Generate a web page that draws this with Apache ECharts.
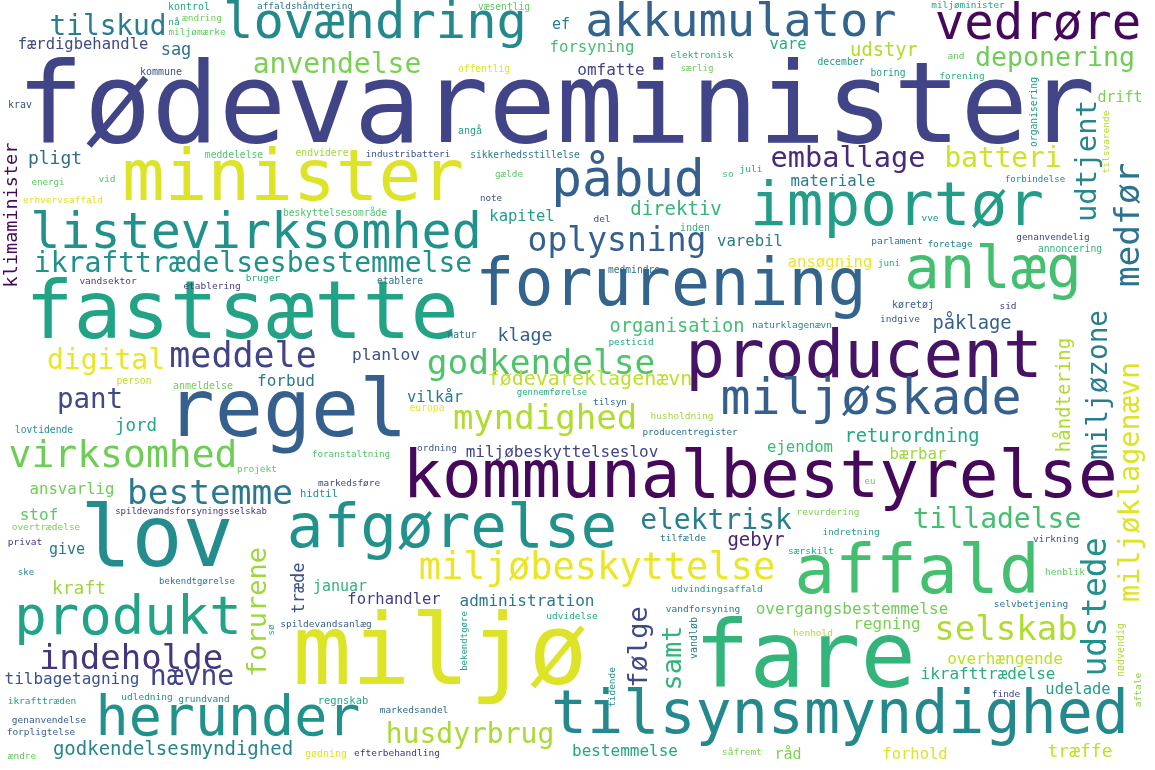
<!DOCTYPE html>
<html>
<head>
<meta charset="utf-8">
<script src="https://cdn.jsdelivr.net/npm/echarts@6/dist/echarts.min.js"></script>
<style>
  html, body { margin: 0; padding: 0; background: #fff; }
  #cloud { width: 1155px; height: 770px; }
</style>
</head>
<body>
<div id="cloud"></div>
<script>
// ord, placering (x, y i billedets koordinater), vægt (skriftstørrelse), farvetone (viridis 0-1), lodret
var words = [
  'fødevareminister','minister','listevirksomhed','ikrafttrædelsesbestemmelse','fastsætte','regel','lov','produkt','indeholde','herunder',
  'godkendelsesmyndighed','tilbagetagning','nævne','forurene','stof','overtrædelse','privat','give','ske','kraft',
  'bekendtgørelse','spildevandsforsyningsselskab','ikrafttræden','udledning','grundvand','genanvendelse','forpligtelse','ændre','afgørelse','miljøbeskyttelse',
  'træde','januar','forhandler','administration','udvidelse','spildevandsanlæg','bekendtgøre','miljø','regnskab','markedsandel',
  'husdyrbrug','gødning','efterbehandling','tilsynsmyndighed','bestemmelse','elektrisk','revurdering','tilfælde','indretning','gebyr',
  'særskilt','affald','udvindingsaffald','overgangsbestemmelse','vandforsyning','følge','samt','vandløb','tidende','regning',
  'henhold','fare','råd','såfremt','tilladelse','virkning','udstede','miljøklagenævn','henblik','selvbetjening',
  'selskab','nødvendig','aftale','overhængende','ikrafttrædelse','udelade','finde','forhold','træffe','klimaminister',
  'vandsektor','etablering','bruger','digital','meddele','person','anmeldelse','forbud','pant','jord',
  'lovtidende','virksomhed','projekt','ansvarlig','bestemme','forurening','etablere','natur','klage','planlov',
  'godkendelse','fødevareklagenævn','gennemførelse','vilkår','europa','myndighed','foranstaltning','ordning','miljøbeskyttelseslov','markedsføre',
  'kommunalbestyrelse','hidtil','oplysning','medmindre','ansøgning','juni','organisation','naturklagenævn','pesticid','producent',
  'miljøskade','tilsyn','husholdning','producentregister','returordning','ejendom','bærbar','eu','anlæg','medfør',
  'køretøj','sid','indgive','påklage','miljøzone','håndtering','akkumulator','forsyning','vare','udstyr',
  'elektronisk','december','særlig','omfatte','påbud','emballage','materiale','juli','so','direktiv',
  'del','inden','varebil','importør','udtjent','vedrøre','miljøminister','deponering','and','boring',
  'forening','drift','organisering','tilsvarende','batteri','forbindelse','vve','parlament','foretage','genanvendelig',
  'annoncering','tilskud','kontrol','nå','ændring','miljømærke','affaldshåndtering','lovændring','væsentlig','ef',
  'færdigbehandle','sag','anvendelse','offentlig','kommune','krav','pligt','meddelelse','energi','vid',
  'erhvervsaffald','beskyttelsesområde','angå','endvidere','industribatteri','sikkerhedsstillelse','gælde','note','kapitel','sø'
];
var xs = [
  556,293,256,253,242,287,157,128,131,228,
  173,72,192,259,39,46,25,67,26,79,
  197,191,42,147,204,49,41,22,452,597,
  300,340,394,527,572,326,465,440,343,414,
  470,326,397,840,625,716,828,683,851,756,
  811,917,717,852,703,640,674,694,613,887,
  813,805,788,742,997,1056,1097,1132,1065,1031,
  1006,1121,1139,1005,988,1078,1006,915,1080,12,
  108,212,263,106,243,134,203,286,90,136,
  44,123,257,72,210,671,400,462,525,386,
  541,590,552,435,427,545,351,437,562,349,
  760,319,617,634,830,889,677,792,631,864,
  871,610,682,690,912,800,918,870,993,1130,
  913,1008,900,972,1100,1065,741,592,788,884,
  702,841,697,611,628,848,833,751,728,676,
  602,695,750,897,1088,1038,968,1055,956,888,
  962,1120,1034,1107,1003,1035,930,897,950,1053,
  1070,108,189,174,202,197,305,375,504,561,
  83,176,337,484,161,20,55,234,48,107,
  63,335,470,322,408,525,509,491,522,272
];
var ys = [
  113,182,235,265,317,415,544,620,660,721,
  750,680,678,612,516,528,543,550,573,589,
  582,512,702,698,700,721,733,757,531,569,
  588,587,600,602,617,625,641,659,701,711,
  736,754,754,717,752,522,513,539,533,541,
  552,575,590,610,610,647,658,638,687,625,
  634,663,755,753,521,540,607,482,573,605,
  631,650,690,660,675,690,695,755,752,215,
  282,287,279,362,358,381,386,382,401,426,
  430,457,470,490,495,288,281,335,336,356,
  365,380,393,398,408,420,455,449,453,484,
  480,494,242,270,263,264,327,326,343,360,
  401,403,417,433,437,448,455,482,273,225,
  305,307,320,324,385,395,24,48,45,51,
  56,62,69,71,183,160,182,170,175,210,
  220,228,242,209,161,26,6,59,57,73,
  77,98,112,142,160,180,219,242,245,238,
  249,28,7,23,19,33,7,25,7,25,
  45,51,66,69,72,105,159,155,183,180,
  201,213,131,153,155,155,175,199,217,630
];
var weights = [
  112,71,50,28,80,80,85,54,34,55,
  19,16,28,27,16,9.5,9.5,15,9,18,
  9,9,9.5,9.5,9.5,9.5,9.5,9.5,61,37,
  17,15,15.5,16,9.5,9.5,9,98,10.5,9.5,
  28,10,9.5,60,16,28,9.5,9.5,9.5,19,
  9.5,68,9.5,16,9.5,27,27,10,9.5,16,
  9.5,92,15,9.5,28,9.5,33,28.5,9.5,9.5,
  34,10,9.5,16,16,15.5,9.5,15.5,18,18.5,
  9.5,9.5,9.5,28,35,9.7,10,16,27.5,17.5,
  9.7,38,9.5,15.7,34.5,65,9.6,9.6,18.3,16.2,
  34.5,20,9,15.5,9.7,34,9.3,9.5,16,9.4,
  66,10.5,33,9.6,15.7,9.2,18.7,9.5,9.4,66,
  50,9.4,9.5,9.3,18.7,15.7,15.8,9,59,34.4,
  10,9.5,9.5,18.8,27.7,19,47,15.7,15.4,18.8,
  9.5,9.8,9.2,16,51,28.6,15.7,9.5,9.5,19,
  9.5,10,15.7,61,29,49,9.4,26.6,9.5,9.7,
  9.4,15,9.7,9.5,27.8,9.1,9.5,9.5,9.4,9.4,
  9.7,27.8,10,9.5,9.5,9.5,9.4,50.5,9.6,15,
  15.5,17,28,9.6,10,10,18,9.7,9.2,9.5,
  9.5,9.6,10,9.8,9.4,9.6,9.3,9.2,15.5,9
];
var tones = [
  0.2,0.95,0.5,0.5,0.58,0.3,0.48,0.58,0.15,0.5,
  0.45,0.25,0.2,0.85,0.75,0.8,0.15,0.4,0.45,0.85,
  0.4,0.15,0.55,0.5,0.45,0.3,0.3,0.75,0.5,0.97,
  0.25,0.65,0.18,0.4,0.6,0.3,0.55,0.95,0.6,0.35,
  0.87,0.95,0.15,0.47,0.6,0.42,0.8,0.4,0.55,0.1,
  0.6,0.7,0.55,0.78,0.4,0.22,0.65,0.4,0.5,0.8,
  0.88,0.65,0.8,0.8,0.7,0.25,0.5,0.95,0.75,0.38,
  0.88,0.88,0.82,0.9,0.62,0.55,0.22,0.95,0.9,0.02,
  0.18,0.18,0.6,0.97,0.2,0.9,0.78,0.4,0.22,0.6,
  0.5,0.78,0.75,0.78,0.4,0.32,0.35,0.35,0.3,0.25,
  0.72,0.9,0.62,0.4,0.97,0.88,0.72,0.28,0.2,0.22,
  0.02,0.5,0.3,0.35,0.98,0.6,0.7,0.45,0.6,0.05,
  0.3,0.35,0.85,0.38,0.6,0.68,0.85,0.75,0.7,0.38,
  0.3,0.2,0.3,0.3,0.42,0.88,0.32,0.7,0.62,0.88,
  0.62,0.55,0.78,0.2,0.3,0.12,0.42,0.6,0.7,0.65,
  0.25,0.65,0.42,0.55,0.45,0.02,0.6,0.78,0.75,0.55,
  0.62,0.8,0.55,0.88,0.93,0.45,0.5,0.38,0.45,0.2,
  0.65,0.42,0.6,0.55,0.78,0.75,0.4,0.47,0.75,0.42,
  0.22,0.38,0.8,0.95,0.25,0.25,0.35,0.72,0.75,0.72,
  0.95,0.72,0.55,0.85,0.25,0.4,0.75,0.25,0.55,0.6
];
var upright = [
  0,0,0,0,0,0,0,0,0,0,
  0,0,0,1,0,0,0,0,0,0,
  0,0,0,0,0,0,0,0,0,0,
  1,0,0,0,0,0,1,0,0,0,
  0,0,0,0,0,0,0,0,0,0,
  0,0,0,0,0,1,1,1,1,0,
  0,0,0,0,0,0,1,1,0,0,
  0,1,1,0,0,0,0,0,0,1,
  0,0,0,0,0,0,0,0,0,0,
  0,0,0,0,0,0,0,0,0,0,
  0,0,0,0,0,0,0,0,0,0,
  0,0,0,0,0,0,0,0,0,0,
  0,0,0,0,0,0,0,0,0,1,
  0,0,0,0,1,1,0,0,0,0,
  0,0,0,0,0,0,0,0,0,0,
  0,0,0,0,1,0,0,0,0,0,
  0,0,1,1,0,0,0,0,0,0,
  0,0,0,0,0,0,0,0,0,0,
  0,0,0,0,0,0,0,0,0,0,
  0,0,0,0,0,0,0,0,0,1
];

var viridis = ['#440154','#482475','#414487','#355f8d','#2a788e','#21918c',
               '#22a884','#44bf70','#7ad151','#bddf26','#fde725'];

var chart = echarts.init(document.getElementById('cloud'));

var data = [];
for (var i = 0; i < words.length; i++) {
    data.push({ name: words[i], value: [xs[i], ys[i], weights[i], tones[i]] });
}

var option = {
    backgroundColor: '#ffffff',
    animation: false,
    grid: { left: 0, right: 0, top: 0, bottom: 0 },
    xAxis: { type: 'value', min: 0, max: 1155, show: false },
    yAxis: { type: 'value', min: 0, max: 770, inverse: true, show: false },
    visualMap: {
        show: false,
        type: 'continuous',
        dimension: 3,
        min: 0,
        max: 1,
        inRange: { color: viridis }
    },
    series: [{
        type: 'custom',
        coordinateSystem: 'cartesian2d',
        encode: { x: 0, y: 1 },
        data: data,
        renderItem: function (params, api) {
            var p = api.coord([api.value(0), api.value(1)]);
            var i = params.dataIndex;
            return {
                type: 'text',
                x: p[0],
                y: p[1],
                rotation: upright[i] ? Math.PI / 2 : 0,
                style: {
                    text: words[i],
                    fontFamily: 'DejaVu Sans Mono',
                    fontSize: api.value(2),
                    fill: api.visual('color'),
                    align: 'center',
                    verticalAlign: 'middle'
                }
            };
        }
    }]
};

chart.setOption(option);
</script>
</body>
</html>
